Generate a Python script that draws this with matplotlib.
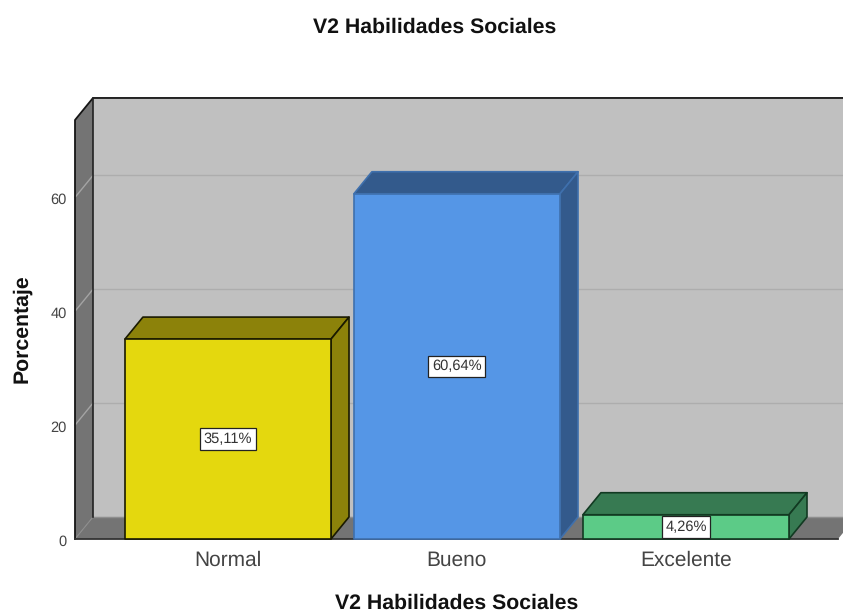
import matplotlib
matplotlib.use('Agg')
from matplotlib import pyplot as plt
from matplotlib.patches import Polygon

plt.rcParams['font.family'] = ['Liberation Sans', 'DejaVu Sans']
plt.rcParams['text.hinting'] = 'no_hinting'

categories = ['Normal', 'Bueno', 'Excelente']
percentages = [35.11, 60.64, 4.26]
value_labels = ['35,11%', '60,64%', '4,26%']
y_ticks = [0, 20, 40, 60]

front_colors = ['#e4d80e', '#5596e6', '#5ccb87']
side_colors = ['#8c820a', '#335a8c', '#377a52']
edge_colors = ['#1a1a00', '#3f70ad', '#123a22']

W, H = 843, 614
DEPTH_X = 0.0786
DEPTH_Y = 3.87
BAR_WIDTH = 0.9
Y_TOP = 73.6
X_LEFT, X_RIGHT = -0.668, 2.664


def poly(ax, pts, color, edge='none', lw=0.0, z=1):
    ax.add_patch(Polygon(pts, closed=True, facecolor=color, edgecolor=edge,
                         linewidth=lw, clip_on=False, zorder=z, joinstyle='round'))


fig = plt.figure(figsize=(W / 100, H / 100), dpi=100)
ax = fig.add_axes([75 / W, 1 - 539 / H, (838 - 75) / W, (539 - 120) / H])
ax.set_xlim(X_LEFT, X_RIGHT)
ax.set_ylim(0, Y_TOP)
ax.axis('off')

# back wall, side wall, floor
bx = X_LEFT + DEPTH_X
rx = X_RIGHT + DEPTH_X
by = DEPTH_Y
ty = Y_TOP + DEPTH_Y
poly(ax, [(bx, by), (rx, by), (rx, ty), (bx, ty)], '#c0c0c0', z=1)
poly(ax, [(X_LEFT, 0), (bx, by), (bx, ty), (X_LEFT, Y_TOP)], '#747474', z=1)
poly(ax, [(X_LEFT, 0), (X_RIGHT, 0), (rx, by), (bx, by)], '#747474', z=1)

# gridlines
for t in y_ticks[1:]:
    ax.plot([bx, rx], [t + DEPTH_Y, t + DEPTH_Y], color='#adadad', lw=1.0, zorder=2, clip_on=False)
    ax.plot([X_LEFT, bx], [t, t + DEPTH_Y], color='#a4a4a4', lw=1.0, zorder=2, clip_on=False)
ax.plot([X_LEFT, bx], [0, DEPTH_Y], color='#8c8c8c', lw=0.8, zorder=2, clip_on=False)
ax.plot([bx, rx], [by, by], color='#8e8e8e', lw=1.0, zorder=2, clip_on=False)

# frame lines
ax.plot([X_LEFT, X_LEFT, bx, rx], [0, Y_TOP, ty, ty], color='#151515', lw=1.3, zorder=3, clip_on=False)
ax.plot([bx, bx], [by, ty], color='#222222', lw=1.2, zorder=3, clip_on=False)
ax.plot([X_LEFT, X_RIGHT], [0, 0], color='#333333', lw=1.3, zorder=3, clip_on=False)

# bars
for i, v in enumerate(percentages):
    l = i - BAR_WIDTH / 2
    r = i + BAR_WIDTH / 2
    z = 4 + i
    poly(ax, [(l, v), (r, v), (r + DEPTH_X, v + DEPTH_Y), (l + DEPTH_X, v + DEPTH_Y)],
         side_colors[i], edge_colors[i], 1.2, z)
    poly(ax, [(r, 0), (r + DEPTH_X, DEPTH_Y), (r + DEPTH_X, v + DEPTH_Y), (r, v)],
         side_colors[i], edge_colors[i], 1.2, z)
    poly(ax, [(l, 0), (r, 0), (r, v), (l, v)], front_colors[i], edge_colors[i], 1.2, z)
    ax.text(i, v / 2, value_labels[i], ha='center', va='center', fontsize=10.5, color='#333333',
            zorder=10, bbox=dict(boxstyle='square,pad=0.25', facecolor='white',
                                 edgecolor='#222222', linewidth=0.9))

# tick labels
for t in y_ticks:
    ax.annotate(str(t), (X_LEFT, t), xytext=(-8, -3), textcoords='offset pixels',
                ha='right', va='center', fontsize=10.5, color='#444444', annotation_clip=False)
for i, c in enumerate(categories):
    ax.annotate(c, (i, 0), xytext=(0, -21), textcoords='offset pixels',
                ha='center', va='center', fontsize=15, color='#444444', annotation_clip=False)

fig.text(435 / W, 1 - 27 / H, 'V2 Habilidades Sociales', ha='center', va='center',
         fontsize=15.3, fontweight='bold', color='#111111')
fig.text(457 / W, 1 - 603 / H, 'V2 Habilidades Sociales', ha='center', va='center',
         fontsize=15.3, fontweight='bold', color='#111111')
fig.text(22 / W, 1 - 329 / H, 'Porcentaje', ha='center', va='center', rotation=90,
         fontsize=15.3, fontweight='bold', color='#111111')

fig.savefig('out.png', dpi=100)
